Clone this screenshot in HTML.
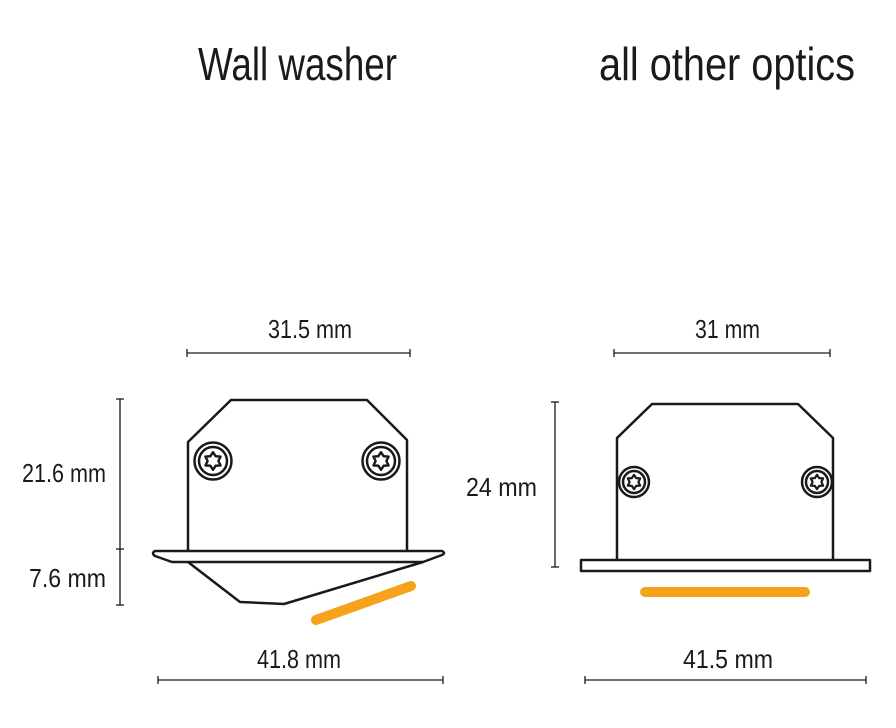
<!DOCTYPE html>
<html><head><meta charset="utf-8"><style>
html,body{margin:0;padding:0;background:#fff;}
svg{display:block;}
text{font-family:"Liberation Sans",sans-serif;fill:#1a1a1a;}
</style></head><body>
<svg width="896" height="728" viewBox="0 0 896 728" xmlns="http://www.w3.org/2000/svg">
<defs>
<g id="torx">
<path d="M0,-6.5 L2,-3.5 L5.6,-3.3 L4,0 L5.6,3.3 L2,3.5 L0,6.5 L-2,3.5 L-5.6,3.3 L-4,0 L-5.6,-3.3 L-2,-3.5 Z" fill="none" stroke="#1a1a1a" stroke-width="1.8" stroke-linejoin="round" transform="scale(1.35)"/>
</g>
<g id="torxs">
<path d="M0,-6.5 L2,-3.5 L5.6,-3.3 L4,0 L5.6,3.3 L2,3.5 L0,6.5 L-2,3.5 L-5.6,3.3 L-4,0 L-5.6,-3.3 L-2,-3.5 Z" fill="none" stroke="#1a1a1a" stroke-width="2" stroke-linejoin="round" transform="scale(1.1)"/>
</g>
</defs>
<text x="198" y="80" font-size="46" textLength="199" lengthAdjust="spacingAndGlyphs">Wall washer</text>
<text x="599" y="80" font-size="46" textLength="256" lengthAdjust="spacingAndGlyphs">all other optics</text>

<g stroke="#1a1a1a" stroke-width="1.3" fill="none">
<line x1="187" y1="353" x2="410" y2="353"/><line x1="187" y1="349" x2="187" y2="357"/><line x1="410" y1="349" x2="410" y2="357"/>
<line x1="120" y1="399" x2="120" y2="605"/><line x1="116" y1="399" x2="124" y2="399"/><line x1="116" y1="549" x2="124" y2="549"/><line x1="116" y1="605" x2="124" y2="605"/>
<line x1="158" y1="680" x2="443" y2="680"/><line x1="158" y1="676" x2="158" y2="684"/><line x1="443" y1="676" x2="443" y2="684"/>
<line x1="614" y1="353" x2="830" y2="353"/><line x1="614" y1="349" x2="614" y2="357"/><line x1="830" y1="349" x2="830" y2="357"/>
<line x1="555" y1="402" x2="555" y2="567"/><line x1="551" y1="402" x2="559" y2="402"/><line x1="551" y1="567" x2="559" y2="567"/>
<line x1="585" y1="680" x2="866" y2="680"/><line x1="585" y1="676" x2="585" y2="684"/><line x1="866" y1="676" x2="866" y2="684"/>
</g>

<g font-size="26">
<text x="268" y="338" textLength="84" lengthAdjust="spacingAndGlyphs">31.5 mm</text>
<text x="695" y="338" textLength="65" lengthAdjust="spacingAndGlyphs">31 mm</text>
<text x="22" y="482" textLength="84" lengthAdjust="spacingAndGlyphs">21.6 mm</text>
<text x="29" y="587" textLength="77" lengthAdjust="spacingAndGlyphs">7.6 mm</text>
<text x="466" y="496" textLength="71" lengthAdjust="spacingAndGlyphs">24 mm</text>
<text x="257" y="668" textLength="84" lengthAdjust="spacingAndGlyphs">41.8 mm</text>
<text x="683" y="668" textLength="90" lengthAdjust="spacingAndGlyphs">41.5  mm</text>
</g>

<!-- Wall washer -->
<g stroke="#1a1a1a" stroke-width="2.5" fill="none" stroke-linejoin="round">
<path d="M188,551 L188,442 L231,400 L367,400 L407,440 L407,551"/>
<path d="M155,551 L442,551 Q446,553 442,555 L423,562 L172,562 L155,556 Q151,553 155,551 Z"/>
<path d="M188,562 L240,602 L284,604 L423,562"/>
<circle cx="213" cy="461" r="18.5"/><circle cx="381" cy="461" r="18.5"/>
<circle cx="213" cy="461" r="14"/><circle cx="381" cy="461" r="14"/>
</g>
<use href="#torx" x="213" y="461"/><use href="#torx" x="381" y="461"/>
<line x1="316" y1="620" x2="411" y2="586" stroke="#f7a21b" stroke-width="10" stroke-linecap="round"/>

<!-- other optics -->
<g stroke="#1a1a1a" stroke-width="2.5" fill="none" stroke-linejoin="round">
<path d="M617,560 L617,438 L652,404 L798,404 L833,438 L833,560"/>
<rect x="581" y="560" width="289" height="11"/>
<circle cx="634" cy="482" r="15"/><circle cx="817" cy="482" r="15"/>
<circle cx="634" cy="482" r="11"/><circle cx="817" cy="482" r="11"/>
</g>
<use href="#torxs" x="634" y="482"/><use href="#torxs" x="817" y="482"/>
<line x1="645" y1="592" x2="805" y2="592" stroke="#f7a21b" stroke-width="10" stroke-linecap="round"/>
</svg>
</body></html>
